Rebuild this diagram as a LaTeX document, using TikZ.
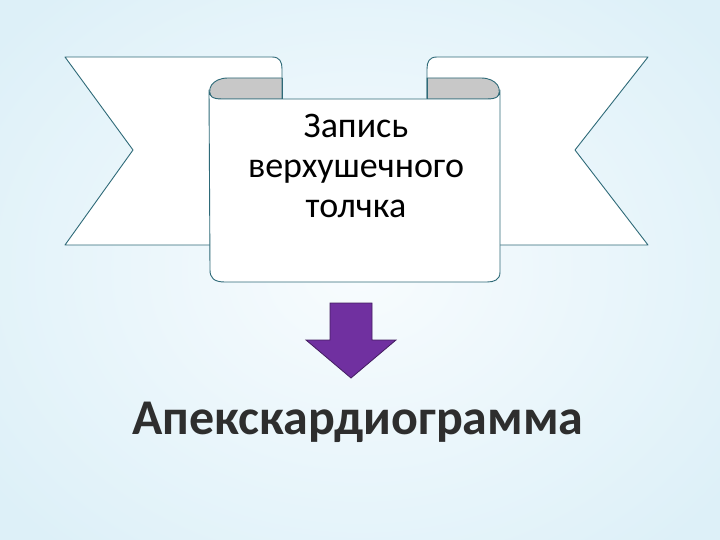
\documentclass[tikz,border=0pt]{standalone}
\usepackage{fontspec}
\setmainfont{Carlito}
\definecolor{bgout}{HTML}{DDF0F8}
\definecolor{bgin}{HTML}{F8FCFE}
\definecolor{edge}{HTML}{2E6A78}
\definecolor{roll}{HTML}{C8C8C8}
\definecolor{arr}{HTML}{7030A0}
\tikzset{rib/.style={fill=white,draw=edge,line width=0.9pt,line join=round},
 back/.style={fill=roll,draw=edge,line width=0.9pt},
 lbl/.style={font=\fontsize{36}{40}\selectfont,align=center,text=black}}
\begin{document}
\begin{tikzpicture}[x=1pt,y=-1pt]
\useasboundingbox (0,0) rectangle (720,540);
\shade[inner color=bgin,outer color=bgout] (-100,-100) rectangle (820,640);
% tails
\path[rib] (65,57) -- (272,57) .. controls (280,57) and (282,62) .. (282,69) -- (282,245) -- (65,245) -- (133,150) -- cycle;
\path[rib] (648,57) -- (437,57) .. controls (429,57) and (427,62) .. (427,69) -- (427,245) -- (648,245) -- (575,150) -- cycle;
% rolls (back)
\path[back] (213,99) .. controls (205,90) and (212,78) .. (228,78) -- (282,78) -- (282,99) -- cycle;
\path[back] (496,99) .. controls (504,90) and (497,78) .. (481,78) -- (427,78) -- (427,99) -- cycle;
% panel
\path[rib] (209,90) .. controls (209,96) and (212,99) .. (222,99) -- (487,99) .. controls (497,99) and (500,96) .. (500,90)
  -- (500,272) .. controls (500,280) and (494,282) .. (487,282) -- (225,282) .. controls (214,282) and (210,278) .. (210,270) -- cycle;
\draw[edge,line width=0.9pt] (282,78) -- (282,99) (427,78) -- (427,99);
\node[lbl] (t) at (356,166) {Запись\\верхушечного\\толчка};
% arrow
\path[fill=arr,draw=arr!60!black,line width=0.8pt] (330,303) -- (372,303) -- (372,340) -- (396,340) -- (351,378) -- (306,340) -- (330,340) -- cycle;
% title
\node (title) at (358,422) {\fontsize{50}{54}\selectfont\bfseries\color{black!82}Апекскардиограмма};
\end{tikzpicture}
\end{document}
